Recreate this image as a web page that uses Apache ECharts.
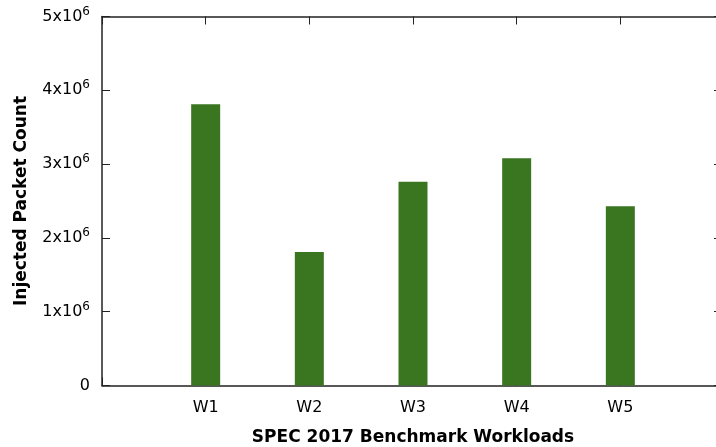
<!DOCTYPE html>
<html>
<head>
<meta charset="utf-8">
<script src="https://cdn.jsdelivr.net/npm/echarts@6/dist/echarts.min.js"></script>
<style>
  html, body { margin: 0; padding: 0; background: #fff; }
  #chart { width: 716px; height: 447px; }
</style>
</head>
<body>
<div id="chart"></div>
<script>
// 数据
var workloads = ["W1", "W2", "W3", "W4", "W5"];
var packetCount = [3810000, 1810000, 2760000, 3080000, 2430000];
var yTicks = [0, 1000000, 2000000, 3000000, 4000000, 5000000];

var font = "DejaVu Sans";
var axisColor = "#222";

var myChart = echarts.init(document.getElementById("chart"));

// 柱子放在 1..5 的位置上，两侧各空一格
var barData = packetCount.map(function (v, i) {
  return [i + 1, v];
});

function yLabel(v) {
  if (v === 0) return "{b|0}";
  return "{b|" + v / 1000000 + "x10}{s|6}";
}

var option = {
  animation: false,
  grid: {
    left: 102,
    right: -8,
    top: 16.5,
    bottom: 61.5,
    containLabel: false,
    outerBoundsMode: "none",
  },
  xAxis: [
    {
      type: "value",
      position: "bottom",
      min: 0,
      max: 6,
      interval: 1,
      name: "SPEC 2017 Benchmark Workloads",
      nameLocation: "middle",
      nameGap: 44,
      nameTextStyle: {
        fontFamily: font,
        fontWeight: "bold",
        fontSize: 17,
        color: "#000",
      },
      axisLine: { show: true, onZero: false, lineStyle: { color: axisColor, width: 1.5 } },
      axisTick: { show: true, inside: true, length: 8, lineStyle: { color: axisColor } },
      splitLine: { show: false },
      axisLabel: {
        margin: 14,
        fontFamily: font,
        fontSize: 16,
        color: "#000",
        formatter: function (v) {
          return workloads[v - 1] || "";
        },
      },
    },
    {
      type: "value",
      position: "top",
      min: 0,
      max: 6,
      interval: 1,
      axisLine: { show: true, onZero: false, lineStyle: { color: axisColor, width: 1.5 } },
      axisTick: { show: true, inside: true, length: 8, lineStyle: { color: axisColor } },
      axisLabel: { show: false },
      splitLine: { show: false },
    },
  ],
  yAxis: [
    {
      type: "value",
      position: "left",
      min: 0,
      max: 5000000,
      interval: 1000000,
      name: "Injected Packet Count",
      nameLocation: "middle",
      nameGap: 72,
      nameTextStyle: {
        fontFamily: font,
        fontWeight: "bold",
        fontSize: 17,
        color: "#000",
      },
      axisLine: { show: true, onZero: false, lineStyle: { color: axisColor, width: 1.5 } },
      axisTick: { show: true, inside: true, length: 8, lineStyle: { color: axisColor } },
      splitLine: { show: false },
      axisLabel: {
        margin: 12,
        formatter: yLabel,
        rich: {
          b: { fontFamily: font, fontSize: 16, color: "#000" },
          s: { fontFamily: font, fontSize: 12, color: "#000", padding: [0, 0, 10, 0] },
        },
      },
    },
    {
      // 右侧边框在画面外，只露出刻度尖
      type: "value",
      position: "right",
      min: 0,
      max: 5000000,
      interval: 1000000,
      axisLine: { show: false, onZero: false },
      axisTick: { show: true, inside: true, length: 10, lineStyle: { color: axisColor } },
      axisLabel: { show: false },
      splitLine: { show: false },
    },
  ],
  series: [
    {
      type: "bar",
      xAxisIndex: 0,
      yAxisIndex: 0,
      data: barData,
      barWidth: 29,
      itemStyle: { color: "#3a7620" },
      z: 3,
    },
  ],
};

myChart.setOption(option, true);
</script>
</body>
</html>
